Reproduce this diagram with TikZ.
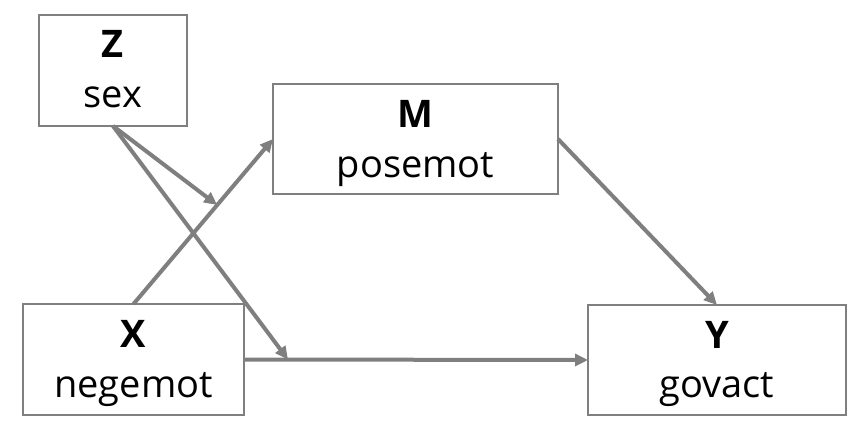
\documentclass[tikz,border=0pt]{standalone}
\usepackage{fontspec}
\setmainfont{Open Sans}
\usetikzlibrary{arrows.meta,calc}
\definecolor{linegray}{HTML}{7F7F7F}
\begin{document}
\begin{tikzpicture}[x=1pt,y=-1pt,
  box/.style={draw=linegray,line width=2.5pt,rectangle,inner sep=0pt,outer sep=0pt},
  lbl/.style={anchor=base,inner sep=0pt,text=black,font=\fontsize{38}{45}\selectfont},
  conn/.style={draw=linegray,line width=4pt,-{Triangle[length=13pt,width=12pt]}}]
\useasboundingbox (0,0) rectangle (862,436);
% boxes
\node[box,minimum width=148pt,minimum height=111pt] (Z) at (113,70.5) {};
\node[box,minimum width=285pt,minimum height=110pt] (M) at (415.5,139) {};
\node[box,minimum width=221pt,minimum height=111pt] (X) at (133.5,359.5) {};
\node[box,minimum width=258pt,minimum height=110pt] (Y) at (717,360) {};
% labels
\node[lbl] (Zl1) at ($(Z.north)+(0,42.5)$) {\textbf{Z}};
\node[lbl] (Zl2) at ($(Z.north)+(0,92.5)$) {sex};
\node[lbl] (Ml1) at ($(M.north)+(0,43.5)$) {\textbf{M}};
\node[lbl] (Ml2) at ($(M.north)+(0,93)$) {posemot};
\node[lbl] (Xl1) at ($(X.north)+(0,43)$) {\textbf{X}};
\node[lbl] (Xl2) at ($(X.north)+(0,93)$) {negemot};
\node[lbl] (Yl1) at ($(Y.north)+(0,43)$) {\textbf{Y}};
\node[lbl] (Yl2) at ($(Y.north)+(0,92)$) {govact};
% connector targets on paths
\coordinate (a) at ($(X.north)!0.6!(M.west)$);
\coordinate (b) at ($(X.east)!0.128!(Y.west)$);
% connectors
\draw[conn] (X.north) -- (M.west);
\draw[conn] (X.east) -- (Y.west);
\draw[conn] (M.east) -- (Y.north);
\draw[conn] (Z.south) -- (a);
\draw[conn] (Z.south) -- (b);
\end{tikzpicture}
\end{document}
